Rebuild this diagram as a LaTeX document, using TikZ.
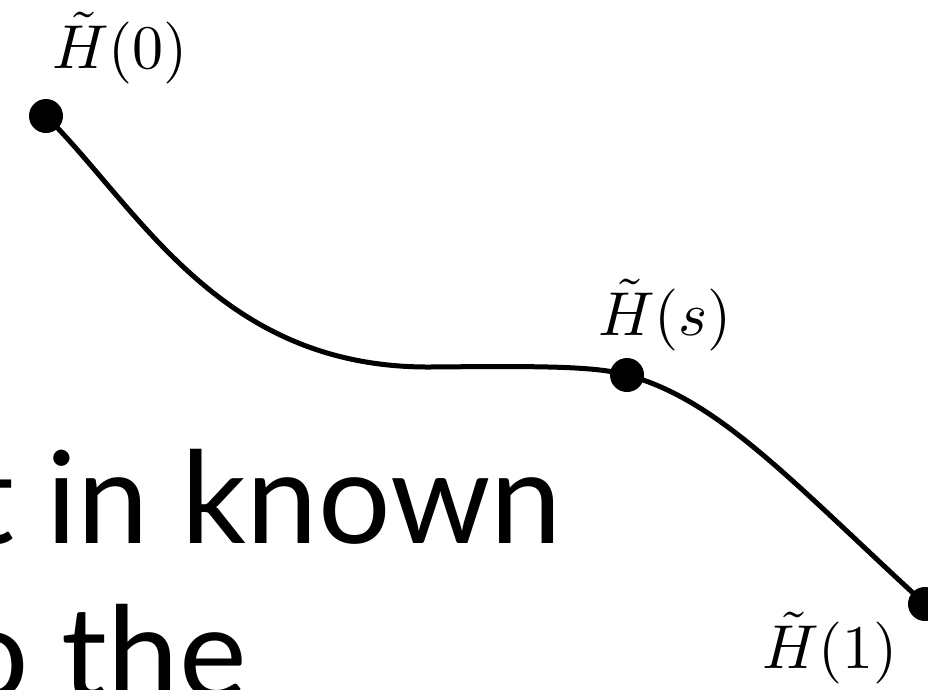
\documentclass[tikz,border=0pt]{standalone}
\usepackage{fontspec}
\newfontfamily\slidefont{Lato}
\begin{document}
\begin{tikzpicture}[x=1pt,y=-1pt,
  dotnode/.style={circle,fill=black,inner sep=0pt,minimum size=34pt},
  mathlabel/.style={scale=6.2,inner sep=0pt},
  slidetext/.style={font=\slidefont\fontsize{128}{150}\selectfont,inner sep=0pt},
  curve/.style={line width=5pt}]
\useasboundingbox (0,0) rectangle (928,689);
\clip (0,0) rectangle (928,689);
\fill[white] (0,0) rectangle (928,689);
\node[slidetext,anchor=base east] (line1) at (562,543) {et in known};
\node[slidetext,anchor=base east] (line2) at (247,698) {to the};
\node[dotnode] (h0) at (46,116) {};
\node[dotnode] (hs) at (627,375) {};
\node[dotnode] (h1) at (925,604) {};
\draw[curve] (h0.center) .. controls (140,210) and (220,368) .. (430,367)
  .. controls (540,366) and (595,366) .. (hs.center)
  .. controls (720,400) and (795,485) .. (h1.center);
\node[mathlabel] (l0) at (120,48) {$\tilde H(0)$};
\node[mathlabel] (ls) at (665,315) {$\tilde H(s)$};
\node[mathlabel] (l1) at (830,648) {$\tilde H(1)$};
\end{tikzpicture}
\end{document}
